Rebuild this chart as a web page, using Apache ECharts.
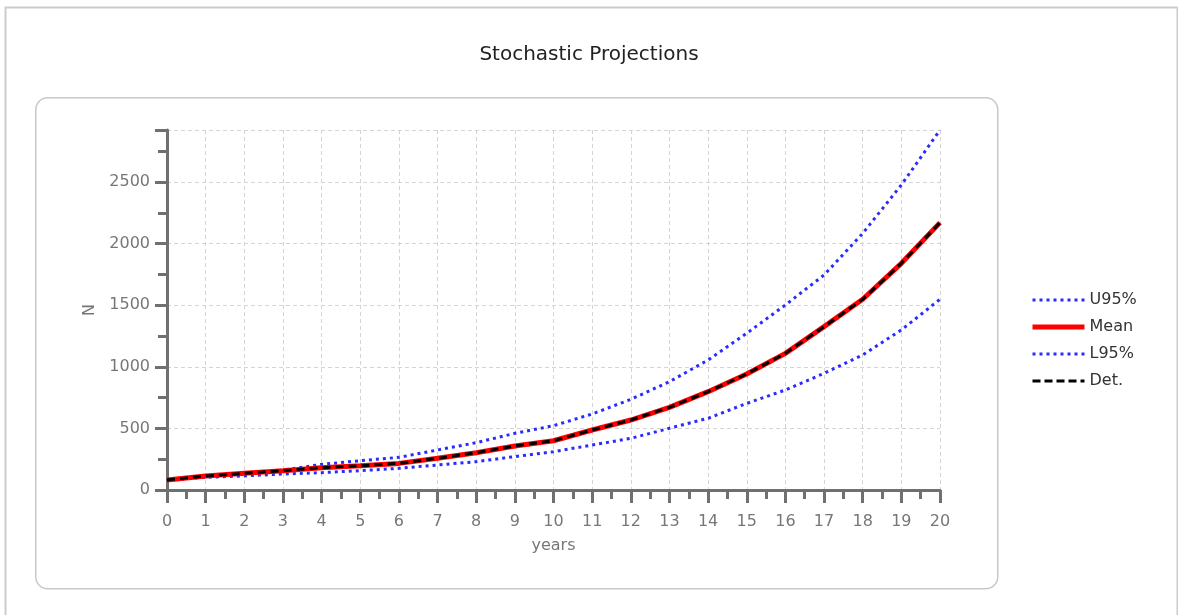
<!DOCTYPE html>
<html><head><meta charset="utf-8">
<script src="https://cdn.jsdelivr.net/npm/echarts@6/dist/echarts.min.js"></script>
<style>html,body{margin:0;padding:0;background:#fff}#c{width:1178px;height:615px}</style>
</head><body><div id="c"></div>
<script>
const years = [0,1,2,3,4,5,6,7,8,9,10,11,12,13,14,15,16,17,18,19,20];
const u95 = [80,108,130,162,208,238,265,325,384,460,522,617,736,879,1055,1272,1502,1745,2083,2476,2922];
const mean = [82,113,135,157,181,197,216,257,303,357,400,487,568,671,798,942,1109,1326,1548,1840,2170];
const l95 = [80,103,114,130,141,157,176,203,230,271,311,365,419,501,582,703,812,947,1096,1299,1548];
const det = [82,113,135,157,181,197,216,257,303,357,400,487,568,671,798,942,1109,1326,1548,1840,2170];
const seriesNames = ['U95%','Mean','L95%','Det.'];
const yTicks = [0,500,1000,1500,2000,2500];

const pairs = arr => years.map((y,i)=>[y,arr[i]]);
const font = 'DejaVu Sans';
const blue = '#2b2bff';
const chart = echarts.init(document.getElementById('c'));
chart.setOption({
  animation:false,
  backgroundColor:'#fff',
  title:{text:'Stochastic Projections',left:'center',top:40,textStyle:{fontFamily:font,fontSize:20,fontWeight:'normal',color:'#222'}},
  graphic:[
    {type:'rect',left:3,top:5,shape:{width:1172,height:620},style:{fill:'none',stroke:'#cccccc',lineWidth:2},silent:true,z:-10},
    {type:'rect',left:35,top:97,shape:{width:962,height:491,r:12},style:{fill:'#fff',stroke:'#c8c8c8',lineWidth:1.5},silent:true,z:-9}
  ],
  grid:{left:167,right:238,top:130,bottom:125},
  legend:{orient:'vertical',left:1025,top:287,itemWidth:52,itemHeight:14,itemGap:11,
    itemStyle:{opacity:0},
    textStyle:{fontFamily:font,fontSize:16,color:'#333'},
    data:[
      {name:'U95%',lineStyle:{width:3,type:[3,4],color:blue}},
      {name:'Mean',lineStyle:{width:5,color:'#ff0000',type:'solid'}},
      {name:'L95%',lineStyle:{width:3,type:[3,4],color:blue}},
      {name:'Det.',lineStyle:{width:3,type:[8,4],color:'#000'}}
    ]},
  xAxis:{type:'value',min:0,max:20,interval:1,name:'years',nameLocation:'middle',nameGap:48,
    nameTextStyle:{fontFamily:font,fontSize:16,color:'#777'},
    axisLine:{lineStyle:{color:'#707070',width:3}},
    axisTick:{length:13,lineStyle:{color:'#707070',width:3}},
    minorTick:{show:true,splitNumber:2,length:9,lineStyle:{color:'#707070',width:3}},
    axisLabel:{fontFamily:font,fontSize:16,color:'#777',margin:24},
    splitLine:{show:true,lineStyle:{color:'#d4d4d4',type:[4,3],width:1}}},
  yAxis:{type:'value',min:0,max:'dataMax',interval:500,name:'N',nameLocation:'middle',nameGap:69,
    nameTextStyle:{fontFamily:font,fontSize:16,color:'#777'},
    axisLine:{show:true,lineStyle:{color:'#707070',width:3}},
    axisTick:{show:true,length:12,lineStyle:{color:'#707070',width:3}},
    minorTick:{show:true,splitNumber:2,length:9,lineStyle:{color:'#707070',width:3}},
    axisLabel:{fontFamily:font,fontSize:16,color:'#777',margin:17,
      formatter:v=>yTicks.includes(v)?String(v):''},
    splitLine:{show:true,lineStyle:{color:'#d4d4d4',type:[4,3],width:1}}},
  series:[
    {name:'U95%',type:'line',data:pairs(u95),symbol:'none',lineStyle:{color:blue,width:3,type:[3,4]},itemStyle:{color:blue},z:3},
    {name:'Mean',type:'line',data:pairs(mean),symbol:'none',lineStyle:{color:'#ff0000',width:5},itemStyle:{color:'#ff0000'},z:4},
    {name:'L95%',type:'line',data:pairs(l95),symbol:'none',lineStyle:{color:blue,width:3,type:[3,4]},itemStyle:{color:blue},z:3},
    {name:'Det.',type:'line',data:pairs(det),symbol:'none',lineStyle:{color:'#000',width:3,type:[8,5]},itemStyle:{color:'#000'},z:5}
  ]
});
</script></body></html>
